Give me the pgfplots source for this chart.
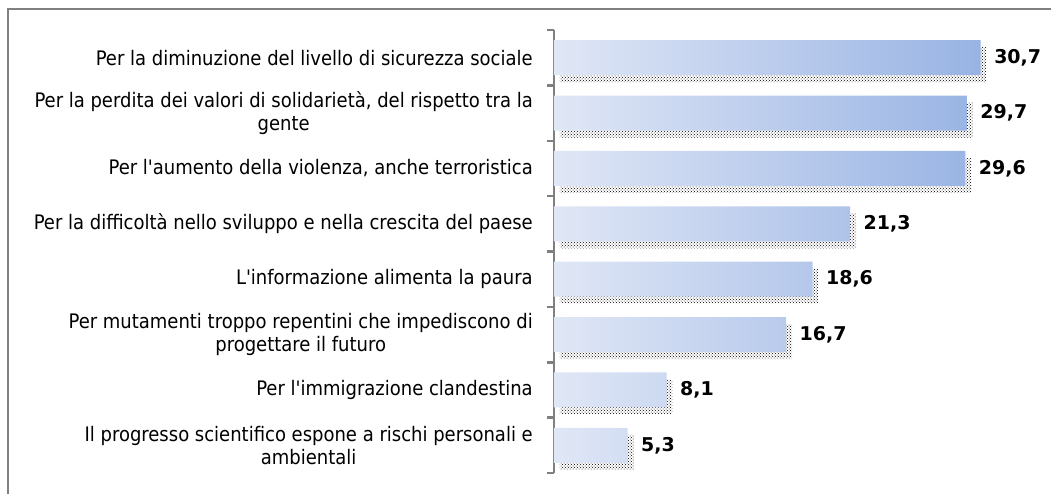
\documentclass[border=0pt]{standalone}
\usepackage{pgfplots}
\pgfplotsset{compat=1.18}
\usepackage{fontspec}
\setmainfont{DejaVu Sans Condensed}
\newfontfamily\valfont{DejaVu Sans}
\usetikzlibrary{patterns}
\definecolor{barL}{RGB}{224,231,246}
\definecolor{barR}{RGB}{152,179,227}
\definecolor{frm}{RGB}{128,128,128}
\begin{document}
\begin{tikzpicture}
\useasboundingbox (-554pt,-20pt) rectangle (497pt,473pt);
\draw[frm, line width=1.5pt] (-546pt,-30pt) -- (-546pt,464pt) -- (510pt,464pt);
\begin{axis}[
  at={(0,0)}, anchor=south west,
  scale only axis, width=486.5pt, height=443pt,
  xbar, bar width=35pt,
  xmin=0, xmax=35, ymin=-0.5, ymax=7.5, y dir=reverse,
  axis x line=none, axis y line*=left,
  y axis line style={frm, line width=2.5pt, -},
  ytick={0,...,7},
  yticklabels={
    Per la diminuzione del livello di sicurezza sociale,
    {Per la perdita dei valori di solidarietà, del rispetto tra la\\gente},
    {Per l\textquotesingle aumento della violenza, anche terroristica},
    Per la difficoltà nello sviluppo e nella crescita del paese,
    L\textquotesingle informazione alimenta la paura,
    Per mutamenti troppo repentini che impediscono di\\progettare il futuro,
    Per l\textquotesingle immigrazione clandestina,
    Il progresso scientifico espone a rischi personali e\\ambientali},
  yticklabel style={align=center, font=\fontsize{20}{23}\selectfont, inner sep=0pt, xshift=-21pt},
  major tick length=0pt,
  minor ytick={-0.5,0.5,...,7.5},
  minor tick length=7pt,
  tick align=outside,
  every minor tick/.style={frm, line width=2.5pt},
  clip=false,
]
\addplot[draw=none, xshift=6pt, bar shift=-7pt, pattern=crosshatch dots, pattern color=black]
  coordinates {(30.7,0) (29.7,1) (29.6,2) (21.3,3) (18.6,4) (16.7,5) (8.1,6) (5.3,7)};
\addplot[draw=none, bar shift=0pt, left color=barL, right color=barR,
  nodes near coords={\pgfmathprintnumber[use comma,fixed,fixed zerofill,precision=1,assume math mode=true]{\pgfplotspointmeta}},
  nodes near coords style={font=\valfont\fontsize{19}{21}\selectfont\bfseries, anchor=west, xshift=10pt, text=black}]
  coordinates {(30.7,0) (29.7,1) (29.6,2) (21.3,3) (18.6,4) (16.7,5) (8.1,6) (5.3,7)};
\end{axis}
\end{tikzpicture}
\end{document}
